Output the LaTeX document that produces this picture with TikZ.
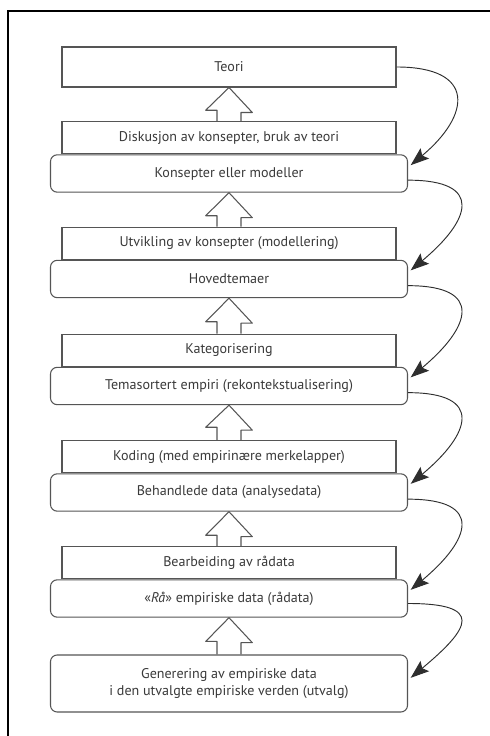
\documentclass[tikz,border=0pt]{standalone}
\usepackage{fontspec}
\setmainfont{PT Sans}
\usetikzlibrary{shapes,arrows.meta,positioning,calc}
\definecolor{darktext}{HTML}{3A3A3A}
\definecolor{boxline}{HTML}{555555}
\definecolor{arrowdark}{HTML}{2E2E2E}

\tikzset{
  labelbox/.style={draw=boxline, line width=0.9pt, fill=white, minimum width=10.02cm,
    minimum height=0.96cm, inner sep=2pt, text=darktext, font=\fontsize{12}{14.5}\selectfont},
  roundbox/.style={labelbox, rounded corners=0.2cm, minimum width=10.71cm, minimum height=1.12cm},
  upshaft/.style={draw=boxline, line width=0.9pt, line join=round},
  loopback/.style={draw=arrowdark, line width=0.8pt,
    -{Stealth[length=0.55cm, width=0.4cm, inset=0.1cm]}}
}

\begin{document}
\begin{tikzpicture}
\useasboundingbox (0,0) rectangle (14.7,22.08);
\fill[white] (0,0) rectangle (14.7,22.08);
\draw[black, line width=1.4pt] (0.24,0) -- (0.24,21.75) -- (14.7,21.75);

% the steps, from the top down
\node[labelbox, minimum height=1.2cm] (teori) at (6.87,20.07) {Teori};
\node[roundbox] (konsepter) at (6.87,16.875) {Konsepter eller modeller};
\node[labelbox, above=0pt of konsepter] (diskusjon) {Diskusjon av konsepter, bruk av teori};
\node[roundbox] (hovedtemaer) at (6.87,13.71) {Hovedtemaer};
\node[labelbox, above=0pt of hovedtemaer] (utvikling) {Utvikling av konsepter (modellering)};
\node[roundbox] (temasortert) at (6.87,10.5) {Temasortert empiri (rekontekstualisering)};
\node[labelbox, above=0pt of temasortert] (kategorisering) {Kategorisering};
\node[roundbox] (behandlede) at (6.87,7.305) {Behandlede data (analysedata)};
\node[labelbox, above=0pt of behandlede] (koding) {Koding (med empirinære merkelapper)};
\node[roundbox] (raadata) at (6.87,4.125) {«\textit{Rå}» empiriske data (rådata)};
\node[labelbox, above=0pt of raadata] (bearbeiding) {Bearbeiding av rådata};
\node[roundbox, minimum height=1.71cm, align=center] (generering) at (6.87,1.575)
  {Generering av empiriske data\\ i den utvalgte empiriske verden (utvalg)};

% block arrows pointing up
\draw[upshaft] ([xshift=-0.36cm]diskusjon.north) -- ++(0,0.33) -- ++(-0.34,0) -- (teori.south)
  -- ++(0.7,-0.75) -- ++(-0.34,0) -- ([xshift=0.36cm]diskusjon.north);
\draw[upshaft] ([xshift=-0.36cm]utvikling.north) -- ++(0,0.33) -- ++(-0.34,0) -- (konsepter.south)
  -- ++(0.7,-0.75) -- ++(-0.34,0) -- ([xshift=0.36cm]utvikling.north);
\draw[upshaft] ([xshift=-0.36cm]kategorisering.north) -- ++(0,0.36) -- ++(-0.34,0) -- (hovedtemaer.south)
  -- ++(0.7,-0.75) -- ++(-0.34,0) -- ([xshift=0.36cm]kategorisering.north);
\draw[upshaft] ([xshift=-0.36cm]koding.north) -- ++(0,0.39) -- ++(-0.34,0) -- (temasortert.south)
  -- ++(0.7,-0.75) -- ++(-0.34,0) -- ([xshift=0.36cm]koding.north);
\draw[upshaft] ([xshift=-0.36cm]bearbeiding.north) -- ++(0,0.33) -- ++(-0.34,0) -- (behandlede.south)
  -- ++(0.7,-0.75) -- ++(-0.34,0) -- ([xshift=0.36cm]bearbeiding.north);
\draw[upshaft] ([xshift=-0.36cm]generering.north) -- ++(0,0.39) -- ++(-0.34,0) -- (raadata.south)
  -- ++(0.7,-0.75) -- ++(-0.34,0) -- ([xshift=0.36cm]generering.north);

% curved arrows down the right side
\draw[loopback] (teori.east) .. controls +(2.4,0) and +(1.8,1.5) .. ([xshift=0.08cm,yshift=0.25cm]konsepter.east);
\draw[loopback] ([yshift=-0.2cm]konsepter.east) .. controls +(2.3,0) and +(1.8,1.5) .. ([xshift=0.08cm,yshift=0.26cm]hovedtemaer.east);
\draw[loopback] ([yshift=-0.2cm]hovedtemaer.east) .. controls +(2.3,0) and +(1.8,1.5) .. ([xshift=0.08cm,yshift=0.26cm]temasortert.east);
\draw[loopback] ([yshift=-0.2cm]temasortert.east) .. controls +(2.3,0) and +(1.8,1.5) .. ([xshift=0.08cm,yshift=0.26cm]behandlede.east);
\draw[loopback] ([yshift=-0.2cm]behandlede.east) .. controls +(2.3,0) and +(1.8,1.5) .. ([xshift=0.08cm,yshift=0.26cm]raadata.east);
\draw[loopback] ([yshift=-0.15cm]raadata.east) .. controls +(2.3,0) and +(1.8,1.5) .. ([xshift=0.08cm,yshift=0.17cm]generering.east);
\end{tikzpicture}
\end{document}
